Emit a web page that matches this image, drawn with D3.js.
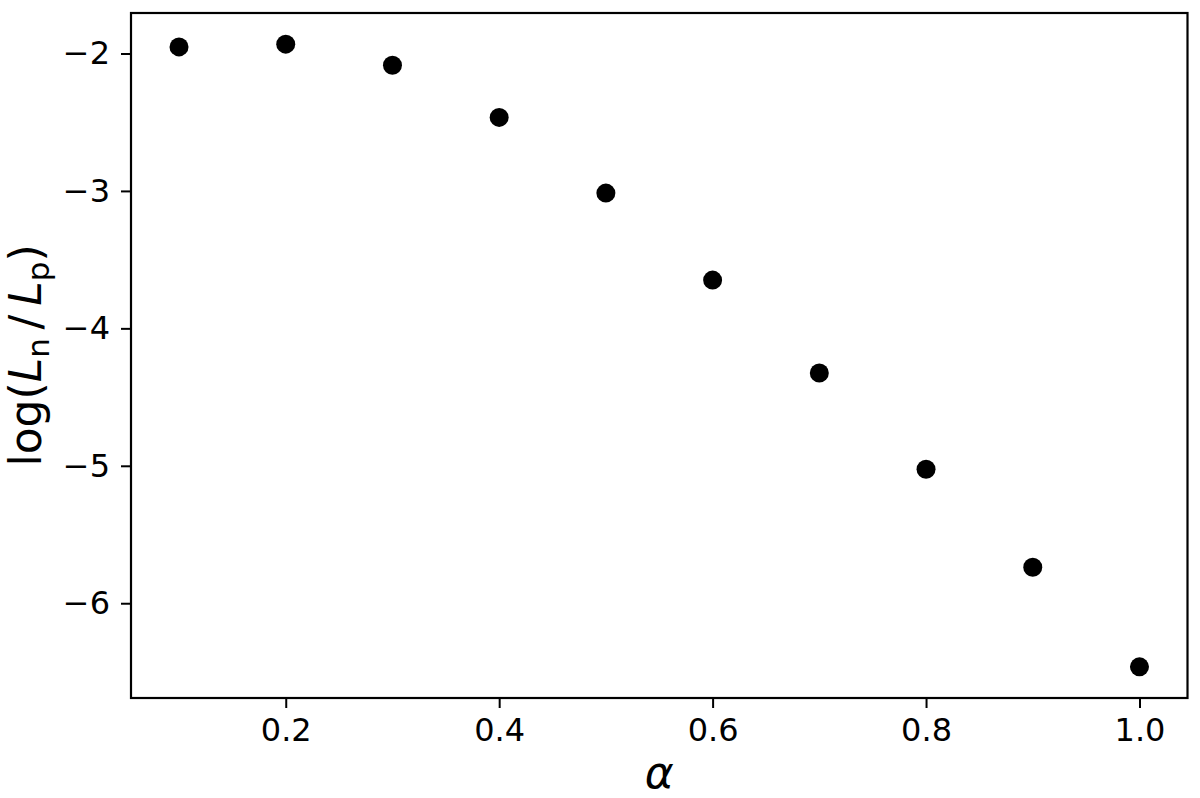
<!DOCTYPE html>
<html>
<head>
<meta charset="utf-8">
<script src="https://cdn.jsdelivr.net/npm/d3@7"></script>
<style>
  body { margin: 0; background: #fff; }
  svg { display: block; }
  .axis text { font-family: "DejaVu Sans", sans-serif; font-size: 32px; fill: #000; }
  .axis line { stroke: #000; stroke-width: 2; }
  .axis path { display: none; }
  .label { font-family: "DejaVu Sans", sans-serif; font-size: 44px; fill: #000; }
</style>
</head>
<body>
<div id="chart-container"></div>
<script>
// data
const alphaValues = [0.1, 0.2, 0.3, 0.4, 0.5, 0.6, 0.7, 0.8, 0.9, 1.0];
const logRatio = [-1.952, -1.932, -2.085, -2.465, -3.016, -3.649, -4.325, -5.025, -5.738, -6.463];
const xTicks = [0.2, 0.4, 0.6, 0.8, 1.0];
const yTicks = [-2, -3, -4, -5, -6];

const svgWidth = 1200,
    svgHeight = 798,
    margin = { top: 13, right: 12.5, bottom: 100, left: 131 },
    width = svgWidth - margin.left - margin.right,
    height = svgHeight - margin.top - margin.bottom;

const data = alphaValues.map((a, i) => ({ alpha: a, val: logRatio[i] }));

var svg = d3.select("#chart-container").append("svg")
    .attr("width", svgWidth)
    .attr("height", svgHeight)
    .append("g")
    .attr("transform", "translate(" + margin.left + "," + margin.top + ")");

// matplotlib-like 5% margins
let xPad = 0.05 * (d3.max(alphaValues) - d3.min(alphaValues)),
    yPad = 0.05 * (d3.max(logRatio) - d3.min(logRatio));

let xScale = d3.scaleLinear()
        .domain([d3.min(alphaValues) - xPad, d3.max(alphaValues) + xPad])
        .range([0, width]),
    yScale = d3.scaleLinear()
        .domain([d3.min(logRatio) - yPad, d3.max(logRatio) + yPad])
        .range([height, 0]);

let minus = (v) => (v < 0 ? "\u2212" + Math.abs(v) : "" + v);

svg.append("g")
    .attr("class", "axis")
    .attr("transform", `translate(0, ${height})`)
    .call(d3.axisBottom(xScale).tickValues(xTicks).tickFormat(d3.format(".1f"))
        .tickSize(10).tickSizeOuter(0).tickPadding(10));

svg.append("g")
    .attr("class", "axis")
    .call(d3.axisLeft(yScale).tickValues(yTicks).tickFormat(minus)
        .tickSize(10).tickSizeOuter(0).tickPadding(11));

// frame
svg.append("rect")
    .attr("width", width)
    .attr("height", height)
    .attr("fill", "none")
    .attr("stroke", "#000")
    .attr("stroke-width", 2.2);

// points
svg.selectAll("circle")
    .data(data)
    .join("circle")
    .attr("cx", (d) => xScale(d.alpha))
    .attr("cy", (d) => yScale(d.val))
    .attr("r", 9.5)
    .attr("fill", "#000");

// x label
svg.append("text")
    .attr("class", "label")
    .attr("x", width / 2)
    .attr("y", height + 90)
    .attr("text-anchor", "middle")
    .style("font-style", "italic")
    .text("\u03b1");

// y label: log(L_n / L_p)
let yl = svg.append("text")
    .attr("class", "label")
    .attr("text-anchor", "middle")
    .attr("transform", `translate(${41 - margin.left}, ${height / 2}) rotate(-90)`);
yl.append("tspan").text("log(");
yl.append("tspan").style("font-style", "italic").text("L");
yl.append("tspan").attr("font-size", "31px").attr("dy", 8).text("n");
yl.append("tspan").attr("dy", -8).text("\u2009/\u2009");
yl.append("tspan").style("font-style", "italic").text("L");
yl.append("tspan").attr("font-size", "31px").attr("dy", 8).text("p");
yl.append("tspan").attr("dy", -8).text(")");
</script>
</body>
</html>
